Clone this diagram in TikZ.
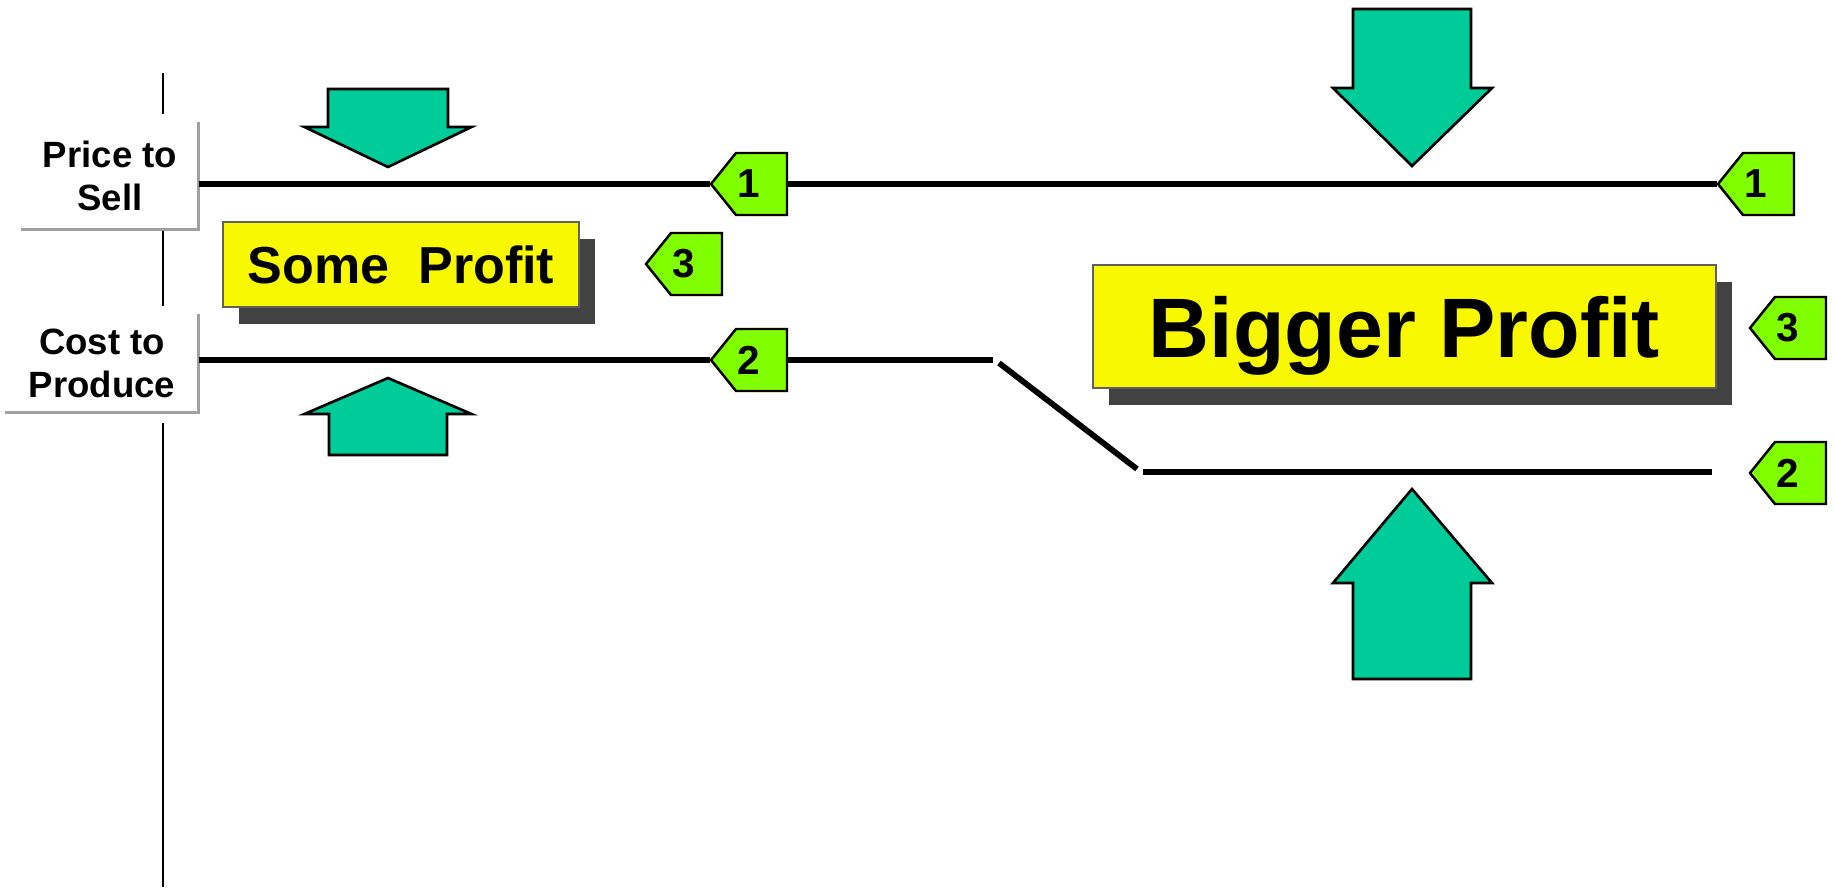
\documentclass[tikz,border=0pt]{standalone}
\usepackage{fontspec}
\setmainfont{Liberation Sans}
\usetikzlibrary{calc,shadows}

\definecolor{arrowteal}{RGB}{0,204,153}
\definecolor{taglime}{RGB}{128,255,0}
\definecolor{boxyellow}{RGB}{248,248,0}
\definecolor{shadowgrey}{RGB}{66,66,66}
\definecolor{boxedge}{RGB}{96,96,96}
\definecolor{labeledge}{RGB}{160,160,160}

\tikzset{
  axisline/.style={line width=0.85pt, black},
  levelline/.style={line width=1.65pt, black},
  pushshape/.style={fill=arrowteal, draw=black, line width=0.75pt, line join=miter},
  tagshape/.style={fill=taglime, draw=black, line width=0.7pt, line join=miter},
  tagtext/.style={inner sep=0pt, minimum width=0.76cm, minimum height=0.62cm,
    font=\fontsize{11.5}{13}\selectfont\bfseries},
  profitbox/.style={fill=boxyellow, draw=boxedge, line width=0.6pt, inner sep=0pt,
    drop shadow={shadow xshift=0.16cm, shadow yshift=-0.17cm, fill=shadowgrey, opacity=1}},
  sidelabel/.style={inner sep=0pt, align=center, fill=white,
    font=\fontsize{10.4}{12.4}\selectfont\bfseries},
  labeledgeline/.style={draw=labeledge, line width=0.85pt},
}

% numbered tag: pointed lime plate with its number; #1 name, #2/#3 centre, #4 text
\newcommand\numtag[4]{%
  \draw[tagshape] (#2-38,#3) -- (#2-13,#3-31) -- (#2+38,#3-31)
    -- (#2+38,#3+31) -- (#2-13,#3+31) -- cycle;
  \node[tagtext] (#1) at (#2,#3) {#4};
}

\begin{document}
\begin{tikzpicture}[x=0.01cm, y=-0.01cm]
  \useasboundingbox (0,0) rectangle (1835,887);

  % axis labels
  \node[sidelabel, minimum width=1.76cm, minimum height=1.06cm] (price) at (110,176) {Price to\\Sell};
  \node[sidelabel, minimum width=1.92cm, minimum height=0.97cm] (cost) at (102,363.5) {Cost to\\Produce};
  \draw[labeledgeline] (price.north east) -- (price.south east) -- (price.south west);
  \draw[labeledgeline] (cost.north east) -- (cost.south east) -- (cost.south west);

  % vertical axis, broken by the labels
  \coordinate (axtop) at (163,73);
  \coordinate (axbot) at (163,887);
  \draw[axisline] (axtop) -- ($(axtop |- price.north)+(0,-8)$);
  \draw[axisline] ($(axtop |- price.south)+(0,1)$) -- ($(axtop |- cost.north)+(0,-8)$);
  \draw[axisline] ($(axtop |- cost.south)+(0,10)$) -- (axbot);

  % numbered tags
  \numtag{t1a}{749}{184}{1}
  \numtag{t3a}{684}{264}{3}
  \numtag{t2a}{749}{360}{2}
  \numtag{t1b}{1756}{184}{1}
  \numtag{t3b}{1788}{328}{3}
  \numtag{t2b}{1788}{473}{2}

  % price level
  \draw[levelline] (price.east |- t1a.west) -- (t1a.west);
  \draw[levelline] (t1a.east) -- (t1b.west);

  % cost level, stepping down
  \coordinate (bend1) at (993,360);
  \coordinate (bend2) at (999,363);
  \coordinate (bend3) at (1137,469);
  \coordinate (low1) at (1143,472);
  \coordinate (low2) at (1712,472);
  \draw[levelline] (cost.east |- t2a.west) -- (t2a.west);
  \draw[levelline] (t2a.east) -- (bend1);
  \draw[levelline] (bend2) -- (bend3);
  \draw[levelline] (low1) -- (low2);

  % profit boxes
  \node[profitbox, minimum width=3.56cm, minimum height=0.85cm,
    font=\fontsize{14.8}{16}\selectfont\bfseries] (some) at (401,264.5) {Some~~Profit};
  \node[profitbox, minimum width=6.23cm, minimum height=1.23cm, text height=22.5pt, text depth=5pt,
    font=\fontsize{24}{28}\selectfont\bfseries] (bigger) at (1404.5,326.5) {Bigger Profit};

  % small squeezing arrows
  \draw[pushshape] (328,89) -- (448,89) -- (448,127) -- (471.5,127) -- (388,167)
    -- (304.5,127) -- (328,127) -- cycle;
  \draw[pushshape] (388,378) -- (471.5,414) -- (447,414) -- (447,455) -- (329,455)
    -- (329,414) -- (304.5,414) -- cycle;

  % big widening arrows
  \draw[pushshape] (1353,9) -- (1471,9) -- (1471,88) -- (1492,88) -- (1412,166)
    -- (1333,88) -- (1353,88) -- cycle;
  \draw[pushshape] (1412,489) -- (1492,583) -- (1471,583) -- (1471,679) -- (1353,679)
    -- (1353,583) -- (1333,583) -- cycle;
\end{tikzpicture}
\end{document}
